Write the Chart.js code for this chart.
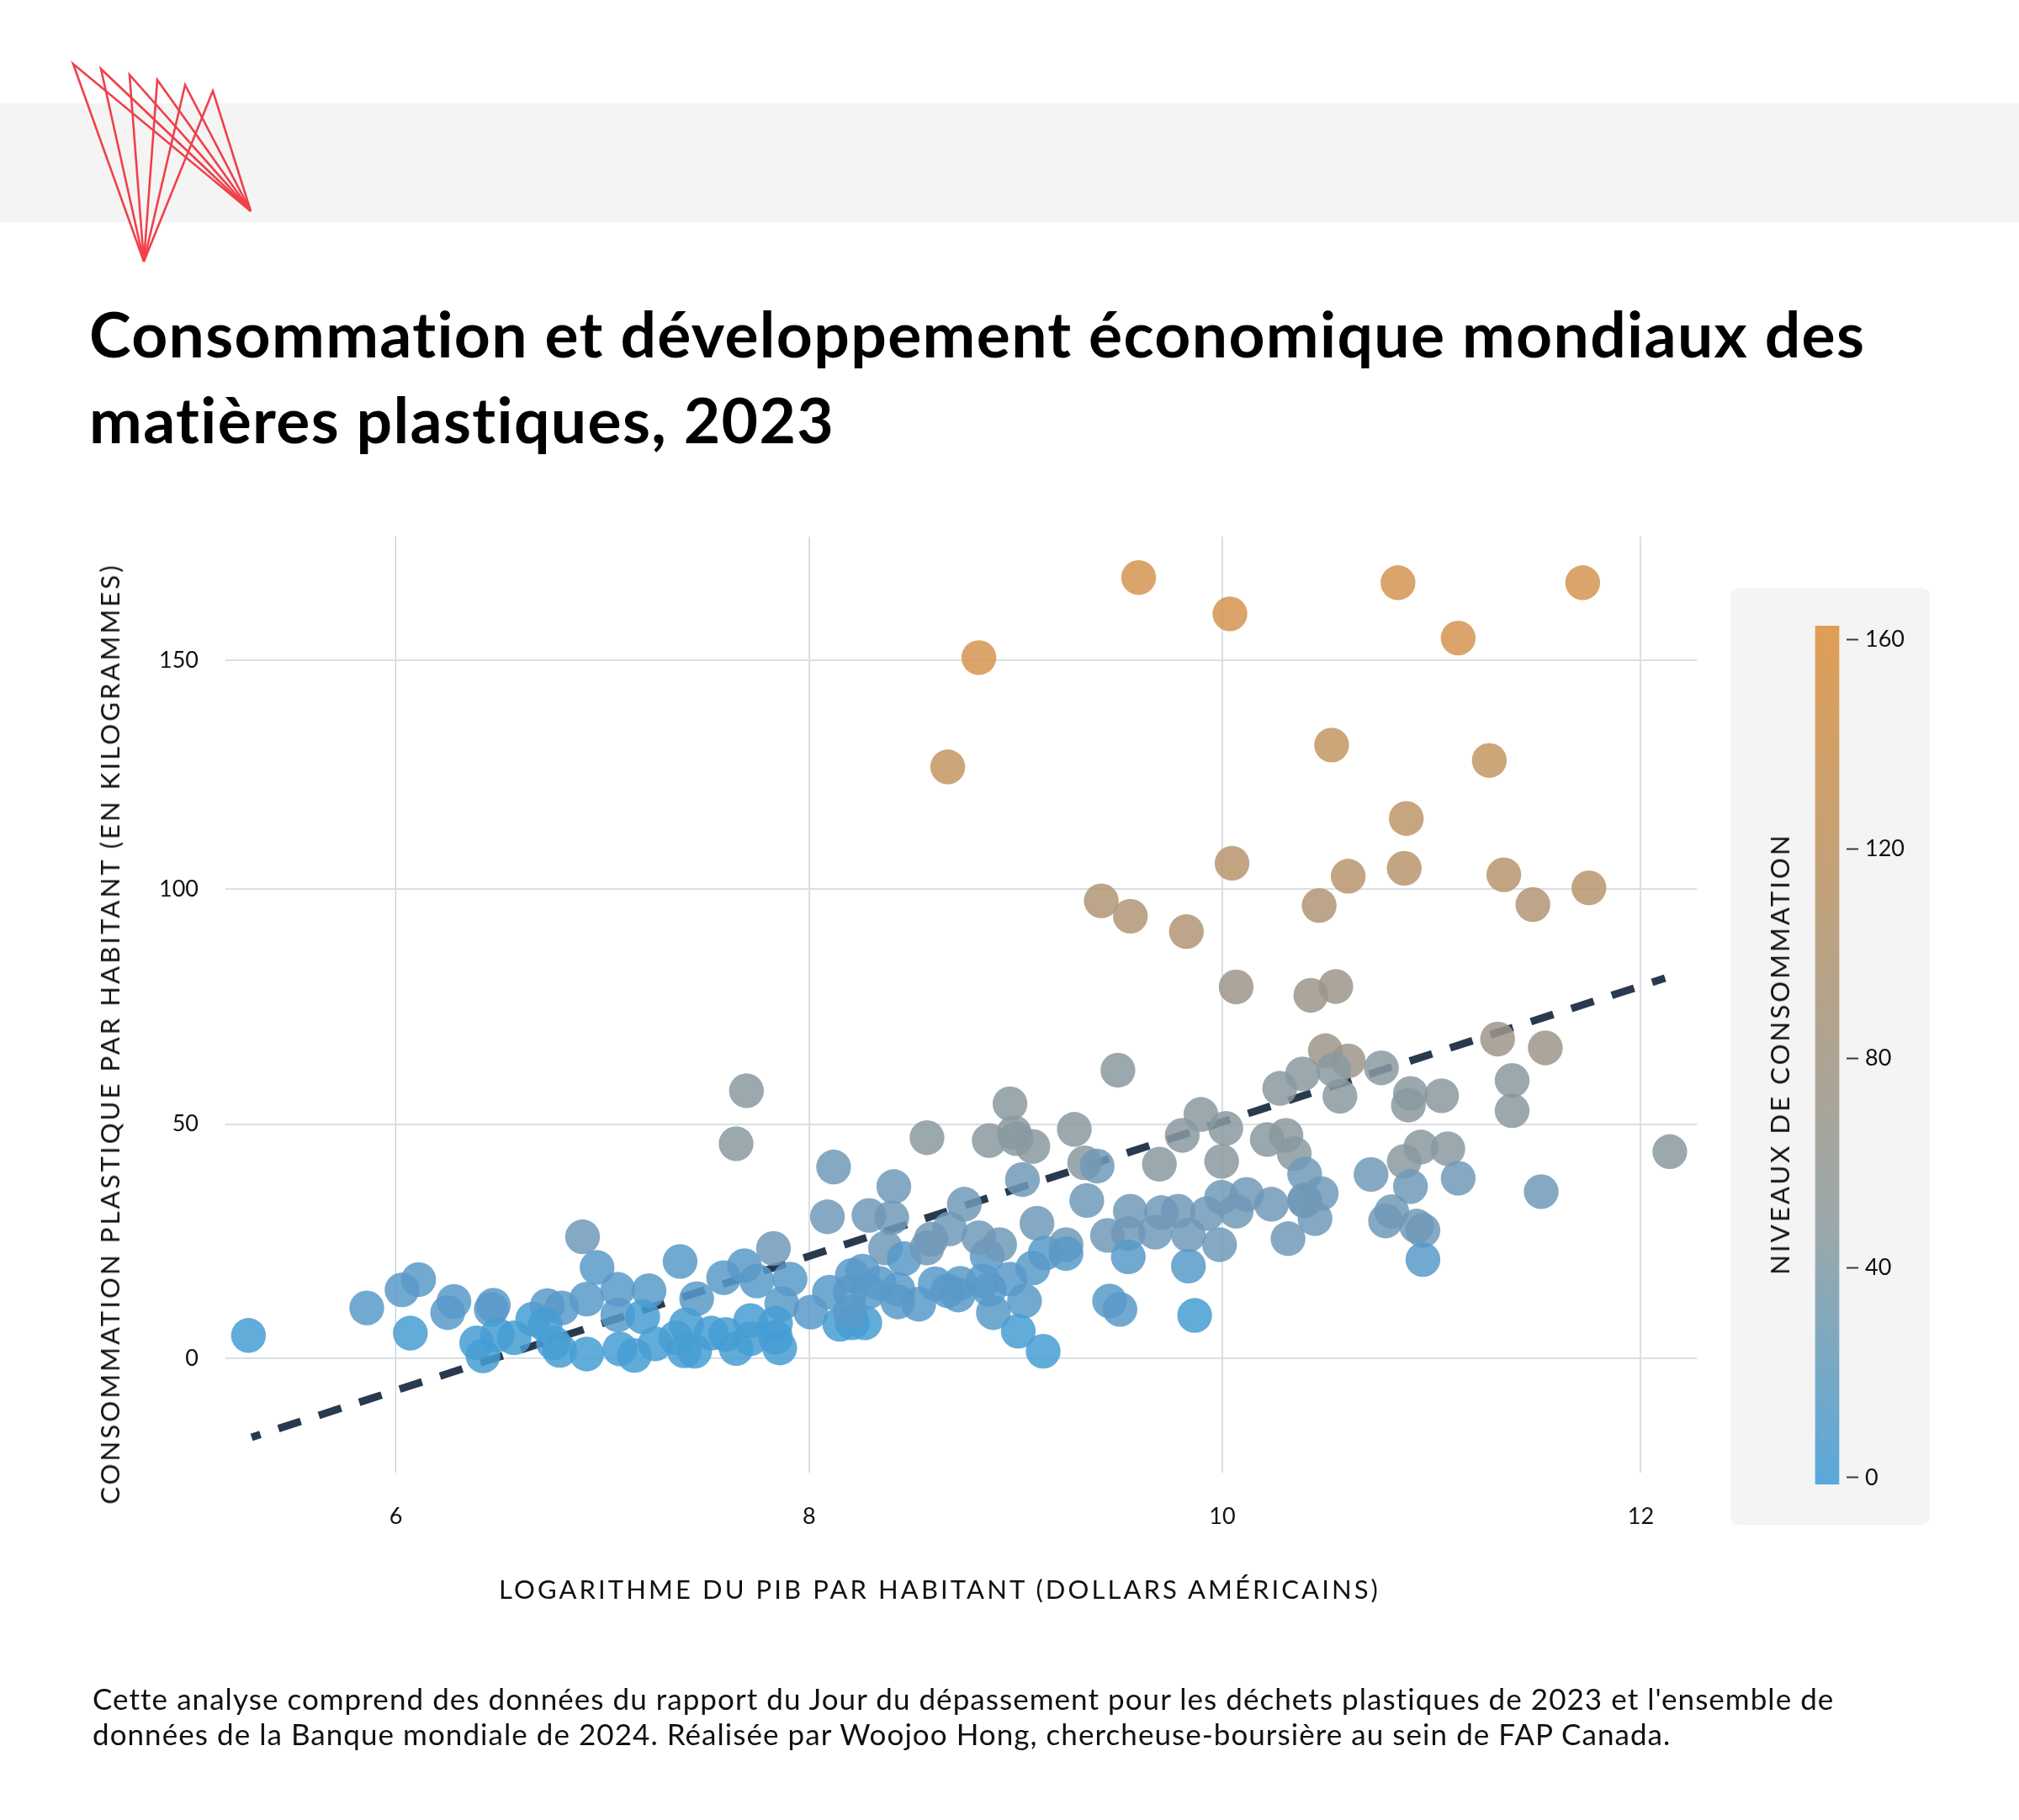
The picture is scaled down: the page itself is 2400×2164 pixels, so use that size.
<!DOCTYPE html>
<html lang="fr">
<head>
<meta charset="utf-8">
<title>Consommation et développement économique mondiaux des matières plastiques, 2023</title>
<script src="https://cdn.jsdelivr.net/npm/chart.js@4/dist/chart.umd.min.js"></script>
<style>
  html, body { margin: 0; padding: 0; background: #fff; }
  body { position: relative; width: 2400px; height: 2164px; overflow: hidden; font-family: Lato, sans-serif; color: #000; }
  .band { position: absolute; left: 0; top: 123px; width: 2400px; height: 141px; background: #f4f4f4; }
  #logo { position: absolute; left: 0; top: 0; }
  h1 { position: absolute; left: 106px; top: 346px; margin: 0; font-size: 75px; line-height: 101.6px; font-weight: 700; white-space: nowrap; letter-spacing: 1.35px; }
  .panel { position: absolute; left: 2057px; top: 699px; width: 237px; height: 1114px; background: #f4f4f4; border-radius: 10px; }
  canvas { position: absolute; left: 0; top: 0; }
  .axis-title { position: absolute; font-size: 31px; letter-spacing: 3.1px; white-space: nowrap; color: #111; transform: translate(-50%, -50%); }
  .axis-title.rot { transform: translate(-50%, -50%) rotate(-90deg); }
  .note { position: absolute; left: 110px; top: 1998px; margin: 0; font-size: 35px; line-height: 42px; letter-spacing: 1.05px; white-space: nowrap; color: #111; }
</style>
</head>
<body>
<div class="band"></div>
<svg id="logo" width="400" height="330" fill="none" stroke="#f0404a" stroke-width="2.6" stroke-linejoin="miter">
  <polyline points="298,251 87,76 171,311"/>
  <polyline points="298,251 120,82 171,311"/>
  <polyline points="298,251 154,89 171,311"/>
  <polyline points="298,251 187,95 171,311"/>
  <polyline points="298,251 220,101 171,311"/>
  <polyline points="298,251 253,108 171,311"/>
</svg>
<h1>Consommation et développement économique mondiaux des<br>matières plastiques, 2023</h1>
<div class="panel"></div>
<canvas id="scatter" width="2400" height="2164"></canvas>
<canvas id="colorbar" width="400" height="1200" style="left:2000px;top:660px"></canvas>
<div class="axis-title rot" style="left:130px;top:1229px">CONSOMMATION PLASTIQUE PAR HABITANT (EN KILOGRAMMES)</div>
<div class="axis-title" style="left:1117px;top:1889px">LOGARITHME DU PIB PAR HABITANT (DOLLARS AMÉRICAINS)</div>
<div class="axis-title rot" style="left:2115px;top:1253px">NIVEAUX DE CONSOMMATION</div>
<p class="note">Cette analyse comprend des données du rapport du Jour du dépassement pour les déchets plastiques de 2023 et l'ensemble de<br>données de la Banque mondiale de 2024. Réalisée par Woojoo Hong, chercheuse-boursière au sein de FAP Canada.</p>

<script>
// log GDP per capita for each country
var gdpLog = [
  5.29, 5.86, 6.03, 6.11, 6.07, 6.28, 6.25, 6.47, 6.46, 6.39, 6.42, 6.49, 6.57, 6.66, 6.73, 6.80, 6.72, 6.76, 6.79,
  7.69, 7.64, 6.90, 6.97, 6.92, 7.07, 7.22, 7.07, 7.19, 7.37, 7.45, 7.58, 7.68, 7.74, 7.82, 7.90, 7.86, 7.83, 7.71,
  7.71, 7.64, 7.59, 7.52, 7.44, 7.39, 7.35, 7.40, 7.25, 7.15, 7.08, 6.92, 7.85, 7.83, 8.00, 8.09, 8.14, 8.20, 8.26,
  8.20, 8.25, 8.08, 8.11, 8.28, 8.40, 8.39, 8.36, 8.45, 8.33, 8.19, 8.28, 8.42, 8.42, 8.52, 8.19, 8.60, 8.66, 8.72,
  8.71, 8.83, 8.86, 8.88, 8.96, 9.03, 9.00, 9.12, 9.07, 8.85, 8.91, 8.81, 8.67, 8.58, 8.56, 8.74, 9.02, 9.09, 9.13,
  9.23, 9.23, 9.33, 9.43, 9.53, 9.54, 9.53, 9.44, 9.49, 8.96, 8.86, 8.98, 8.99, 9.07, 9.27, 9.32, 9.38, 8.56, 9.48,
  9.88, 9.79, 10.00, 9.68, 9.98, 10.20, 10.29, 10.33, 10.26, 10.37, 9.69, 9.77, 9.91, 9.98, 10.10, 10.05, 10.22,
  10.30, 10.38, 10.38, 9.66, 9.82, 9.97, 9.82, 9.85, 10.41, 10.53, 10.48, 10.59, 10.52, 10.55, 10.75, 11.31, 11.54,
  11.38, 11.38, 10.89, 10.88, 11.04, 10.94, 11.07, 10.86, 10.70, 10.89, 11.12, 11.52, 10.80, 10.77, 10.92, 10.95,
  10.95, 10.43, 10.38, 10.46, 9.58, 10.02, 10.83, 11.12, 11.72, 8.81, 8.66, 10.51, 11.27, 10.87, 10.03, 10.59,
  10.86, 11.34, 11.75, 11.48, 10.45, 9.40, 9.54, 9.81, 10.05, 12.14
];

// plastic consumption per capita (kg), same order as gdpLog
var plasticKg = [
  4.9, 10.8, 14.7, 16.9, 5.4, 12.2, 9.8, 11.4, 10.5, 3.3, 0.5, 5.0, 4.4, 8.4, 11.3, 10.8, 7.2, 3.3, 1.7,
  57.5, 46.1, 26.1, 19.5, 12.7, 14.8, 14.5, 9.3, 8.9, 20.8, 12.8, 17.3, 19.9, 16.6, 23.6, 17.0, 11.7, 7.5, 8.1,
  4.2, 2.1, 5.1, 5.4, 1.5, 1.6, 4.4, 7.2, 3.1, 0.6, 2.0, 0.9, 2.2, 4.5, 9.9, 14.2, 7.3, 7.6, 7.6,
  17.8, 18.7, 30.4, 41.1, 30.7, 36.9, 30.2, 23.7, 21.4, 16.1, 14.2, 14.3, 14.8, 12.1, 11.6, 9.9, 16.0, 14.5, 16.1,
  13.6, 16.6, 14.8, 9.8, 17.0, 12.3, 5.8, 1.5, 19.4, 22.0, 24.4, 25.9, 27.8, 25.6, 23.7, 33.1, 38.4, 29.0, 22.6,
  24.4, 22.5, 33.9, 26.4, 26.8, 31.6, 21.8, 12.3, 10.5, 54.7, 46.8, 48.5, 47.2, 45.5, 49.2, 42.0, 41.3, 47.4, 61.9,
  52.4, 47.9, 49.4, 41.7, 42.3, 47.0, 47.9, 44.0, 58.0, 61.1, 31.3, 31.6, 31.1, 34.6, 35.2, 31.6, 33.1,
  25.7, 34.0, 39.6, 27.1, 26.5, 24.4, 19.8, 9.2, 78.0, 79.9, 66.1, 63.9, 62.0, 56.3, 62.4, 68.6, 66.7,
  59.7, 53.2, 56.9, 54.4, 56.4, 45.4, 45.0, 42.3, 39.5, 36.9, 38.7, 35.8, 31.5, 29.5, 28.4, 27.5,
  21.2, 30.0, 33.8, 35.4, 167.8, 160.0, 166.7, 154.8, 166.7, 150.6, 127.1, 131.8, 128.5, 116.0, 106.4, 103.6,
  105.3, 103.9, 101.1, 97.5, 97.3, 98.3, 95.0, 91.7, 79.8, 44.4
];

// trend line end points
var trendX = [5.305, 12.117];
var trendY = [-17, 81.7];

// where the ticks sit on the axes in the picture, and what they say
var xTickSpots = [6, 7.992, 9.983, 12];
var xTickLabels = ['6', '8', '10', '12'];
var yTickSpots = [0, 50.3, 100.85, 150];
var yTickLabels = ['0', '50', '100', '150'];
var legendTicks = [0, 40, 80, 120, 160];

// dots fall into steps of the colour ramp
var binTops = [9.25, 23, 41.6, 63, 85, 100, 112, 125, 140, Infinity];
var binColors = [
  'rgba(70,157,211,0.85)', 'rgba(89,154,201,0.85)', 'rgba(113,154,184,0.85)', 'rgba(138,154,161,0.85)',
  'rgba(156,149,137,0.85)', 'rgba(178,149,117,0.85)', 'rgba(184,149,110,0.85)', 'rgba(189,149,105,0.85)',
  'rgba(195,149,96,0.85)', 'rgba(211,148,80,0.85)'
];

function dotColor(v) {
  for (var i = 0; i < binTops.length; i++) {
    if (v <= binTops[i]) return binColors[i];
  }
}

function placeTicks(spots) {
  return function(s) {
    s.ticks = spots.map(function(v) { return { value: v }; });
  };
}

function labelTicks(labels) {
  return function(value, index) { return labels[index]; };
}

var fontFamily = 'Lato, sans-serif';

var points = gdpLog.map(function(x, i) { return { x: x, y: plasticKg[i] }; });
var trend = trendX.map(function(x, i) { return { x: x, y: trendY[i] }; });

new Chart(document.getElementById('scatter').getContext('2d'), {
  type: 'scatter',
  data: {
    datasets: [
      {
        data: points,
        order: 1,
        pointRadius: 20.7,
        pointBorderWidth: 0,
        backgroundColor: plasticKg.map(dotColor)
      },
      {
        data: trend,
        order: 2,
        showLine: true,
        pointRadius: 0,
        borderColor: '#293a4f',
        borderWidth: 9,
        borderDash: [28, 22.5],
        borderDashOffset: 17
      }
    ]
  },
  options: {
    responsive: false,
    animation: false,
    devicePixelRatio: 1,
    layout: { padding: { left: 0, top: 638, right: 383, bottom: 0 } },
    plugins: { legend: { display: false }, tooltip: { enabled: false } },
    scales: {
      x: {
        type: 'linear',
        min: 5.179,
        max: 12.27,
        afterFit: function(s) { s.height = 413; },
        afterBuildTicks: placeTicks(xTickSpots),
        border: { display: false },
        grid: {
          drawTicks: false,
          color: function(c) { return c.index === 0 ? '#b9cbd8' : '#d9dfe4'; },
          lineWidth: function(c) { return c.index === 0 ? 1 : 2; }
        },
        ticks: { color: '#111', padding: 36, maxRotation: 0, callback: labelTicks(xTickLabels), font: { family: fontFamily, size: 27 } }
      },
      y: {
        type: 'linear',
        min: -24.6,
        max: 176.6,
        afterFit: function(s) { s.width = 268; },
        afterBuildTicks: placeTicks(yTickSpots),
        border: { display: false },
        grid: { drawTicks: false, color: '#d9dfe4', lineWidth: 2 },
        ticks: { color: '#111', padding: 32, callback: labelTicks(yTickLabels), font: { family: fontFamily, size: 27 } }
      }
    }
  }
});

// colour legend is a single floating bar on its own value axis
var barCanvas = document.getElementById('colorbar');
var barCtx = barCanvas.getContext('2d');
var ramp = barCtx.createLinearGradient(0, 84, 0, 1105);
ramp.addColorStop(0, '#df9e56');
ramp.addColorStop(0.5, '#aea492');
ramp.addColorStop(0.7, '#9ba8ab');
ramp.addColorStop(1, '#5aa9da');

new Chart(barCtx, {
  type: 'bar',
  data: {
    labels: [''],
    datasets: [{ data: [[-1.3, 162.6]], backgroundColor: ramp, barThickness: 28 }]
  },
  options: {
    responsive: false,
    animation: false,
    devicePixelRatio: 1,
    layout: { padding: { left: 149, top: 84, right: 0, bottom: 0 } },
    plugins: { legend: { display: false }, tooltip: { enabled: false } },
    scales: {
      x: {
        display: true,
        afterFit: function(s) { s.height = 95; },
        border: { display: false },
        grid: { display: false },
        ticks: { display: false }
      },
      y: {
        position: 'right',
        min: -1.3,
        max: 162.6,
        afterFit: function(s) { s.width = 205; },
        afterBuildTicks: placeTicks(legendTicks),
        border: { display: false },
        grid: { drawOnChartArea: false, drawTicks: true, tickLength: 14, tickWidth: 2, tickColor: '#2d3d50' },
        ticks: { color: '#111', padding: 8, font: { family: fontFamily, size: 27 } }
      }
    }
  }
});
</script>
</body>
</html>
